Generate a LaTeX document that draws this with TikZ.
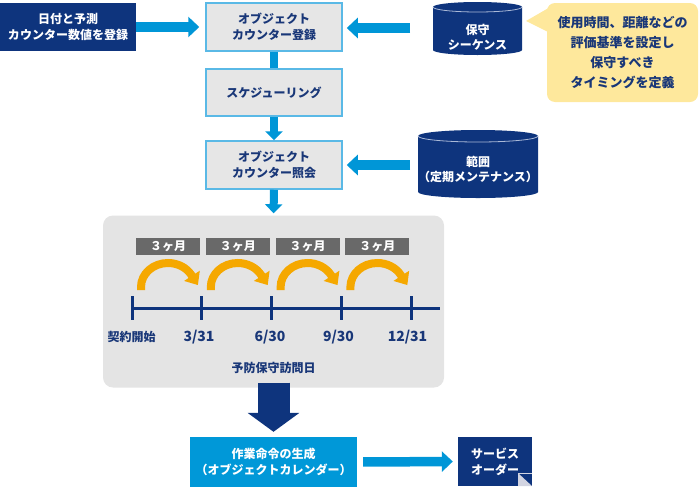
\documentclass[tikz,border=0pt]{standalone}
\usepackage{fontspec}
\setmainfont{Noto Sans CJK JP}
\usetikzlibrary{arrows.meta}
\definecolor{navy}{RGB}{14,52,125}
\definecolor{navytext}{RGB}{25,55,120}
\definecolor{lblue}{RGB}{0,150,215}
\definecolor{boxgray}{RGB}{230,230,230}
\definecolor{boxborder}{RGB}{90,185,230}
\definecolor{panelgray}{RGB}{228,228,228}
\definecolor{noteyellow}{RGB}{254,232,156}
\definecolor{labelgray}{RGB}{105,105,105}
\definecolor{arcorange}{RGB}{245,168,0}
\definecolor{workblue}{RGB}{0,152,216}
\definecolor{foldgray}{RGB}{210,212,225}
\definecolor{cylline}{RGB}{170,185,215}
\begin{document}
\begin{tikzpicture}[x=1pt,y=1pt,
  txt/.style={font=\bfseries\fontsize{12}{16}\selectfont, align=center},
  navybox/.style={txt, fill=navy, text=white, minimum width=136, minimum height=48, inner sep=0},
  graybox/.style={txt, fill=boxgray, draw=boxborder, line width=1.5, text=navytext, minimum width=136, minimum height=48, inner sep=0},
  harrow/.style={draw=lblue, line width=9.5pt, -{Triangle[width=20pt,length=11pt]}},
  varrow/.style={draw=lblue, line width=8pt, -{Triangle[width=17pt,length=9pt]}},
  vline/.style={draw=lblue, line width=8pt},
  monthlabel/.style={txt, fill=labelgray, text=white, minimum width=64, minimum height=17, inner sep=0},
  arcarrow/.style={draw=arcorange, line width=8pt, -{Triangle[width=18pt,length=11pt]}},
  tline/.style={draw=navy, line width=3pt},
  datelabel/.style={font=\bfseries\fontsize{14}{16}\selectfont, text=navytext},
  cyltext/.style={font=\bfseries\fontsize{12}{15.5}\selectfont, align=center, text=white},
]
\useasboundingbox (0,0) rectangle (700,-493);

% top row
\node[navybox] (reg) at (68,-27) {日付と予測\\カウンター数値を登録};
\node[graybox] (b1) at (274,-27) {オブジェクト\\カウンター登録};
\node[graybox, minimum height=47] (b2) at (274,-92.5) {スケジューリング};
\node[graybox] (b3) at (274,-165) {オブジェクト\\カウンター照会};

% cylinders
\fill[navy] (433,-7) -- (433,-50) arc[start angle=180,end angle=360,x radius=44.5,y radius=5] -- (522,-7) arc[start angle=0,end angle=180,x radius=44.5,y radius=5] -- cycle;
\draw[cylline, line width=0.8pt] (433,-7) arc[start angle=180,end angle=360,x radius=44.5,y radius=5];
\node[cyltext] (cylA) at (477.5,-37.5) {保守\\シーケンス};

\fill[navy] (418,-136) -- (418,-192) arc[start angle=180,end angle=360,x radius=60,y radius=6] -- (538,-136) arc[start angle=0,end angle=180,x radius=60,y radius=6] -- cycle;
\draw[cylline, line width=0.8pt] (418,-136) arc[start angle=180,end angle=360,x radius=60,y radius=6];
\node[cyltext] (cylB) at (478,-169.5) {範囲\\（定期メンテナンス）};

\coordinate (cA) at (410,-28);
\coordinate (cB) at (410,-165);

% callout
\fill[noteyellow] (552,-6) -- (526,-21) -- (552,-34) -- cycle;
\node[txt, font=\bfseries\fontsize{13}{20}\selectfont, fill=noteyellow, rounded corners=8pt, text=navytext,
  minimum width=151, minimum height=99, inner sep=0] (note) at (622.5,-52.5)
  {使用時間、距離などの\\評価基準を設定し\\保守すべき\\タイミングを定義};

% connectors top
\draw[harrow, shorten >=6pt] (reg.east) -- (b1.west);
\draw[harrow, shorten >=4pt] (cA) -- (cA -| b1.east);
\draw[harrow, shorten >=4pt] (cB) -- (cB -| b3.east);
\draw[vline] (b1.south) -- (b2.north);
\draw[varrow] (b2.south) -- (b3.north);

% panel
\node[fill=panelgray, rounded corners=10pt, minimum width=341, minimum height=172, inner sep=0] (panel) at (273.5,-301.5) {};
\draw[varrow, shorten >=2pt] (b3.south) -- (panel.north);

% month labels and arcs
\foreach \i in {0,1,2,3}{
  \node[monthlabel] (m\i) at ({168+69.8*\i},-246.5) {３ヶ月};
  \draw[arcarrow] ({141+69.8*\i},-290) -- ({141+69.8*\i},-287)
     arc[start angle=180,end angle=30,x radius=27,y radius=24] -- ++(-57:12);
}

% timeline
\draw[tline] (132,-308) -- (440,-308);
\foreach \i in {0,...,4}{
  \draw[tline] ({132+69.8*\i},-296) -- ({132+69.8*\i},-320);
}
\node[txt, text=navytext] (d0) at (131.5,-337) {契約開始};
\node[datelabel] (d1) at (199,-337) {3/31};
\node[datelabel] (d2) at (270,-337) {6/30};
\node[datelabel] (d3) at (338.5,-337) {9/30};
\node[datelabel] (d4) at (407.5,-337) {12/31};
\node[txt, text=navytext] (visit) at (273.5,-368) {予防保守訪問日};

% bottom row
\node[txt, fill=workblue, text=white, minimum width=167, minimum height=50, inner sep=0] (work) at (273.5,-462) {作業命令の生成\\（オブジェクトカレンダー）};
\node[txt, fill=navy, text=white, minimum width=74, minimum height=49, inner sep=0] (so) at (495,-461.5) {サービス\\オーダー};
\fill[foldgray] (518,-473) -- (518,-486) -- (532,-486) -- cycle;
\draw[foldgray, line width=1pt] (518,-486) -- (518,-473) -- (532,-473);

\draw[navy, line width=32pt, -{Triangle[width=51pt,length=19pt]}, shorten >=5pt] ([yshift=5pt]panel.south) -- (work.north);
\draw[harrow, shorten <=6pt, shorten >=5pt] (work.east) -- (so.west);
\end{tikzpicture}
\end{document}
